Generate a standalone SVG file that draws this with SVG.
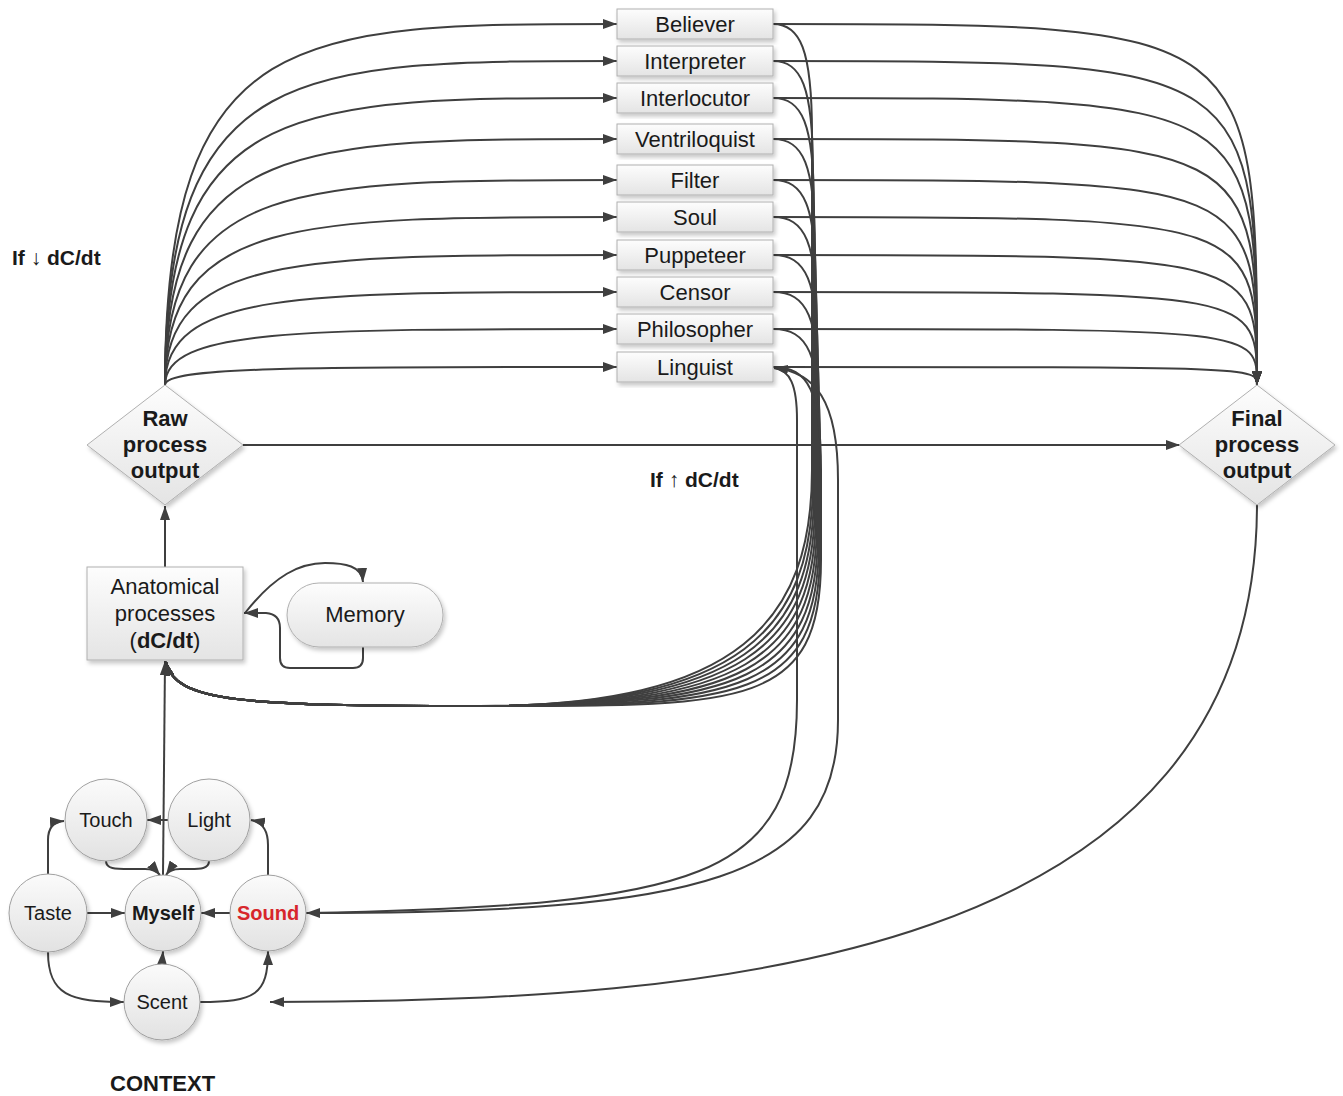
<svg xmlns="http://www.w3.org/2000/svg" width="1343" height="1096" viewBox="0 0 1343 1096">
<style>
.c{fill:none;stroke:#3f3f3f;stroke-width:2;marker-end:url(#arr)}
.box{fill:url(#gBox);stroke:#b0b0b0;stroke-width:1;filter:url(#sh)}
.dia{fill:url(#gBox);stroke:#b0b0b0;stroke-width:1;filter:url(#sh)}
.cir{fill:url(#gCir);stroke:#a0a0a0;stroke-width:1;filter:url(#sh)}
.t{font-family:"Liberation Sans",Arial,sans-serif;font-size:22px;fill:#1a1a1a;text-anchor:middle}
.s{font-size:20px}
.b{font-family:"Liberation Sans",Arial,sans-serif;font-size:22px;font-weight:bold;fill:#1a1a1a}
.l{font-size:21px}
.bm{text-anchor:middle}
</style>
<defs>
<linearGradient id="gBox" x1="0" y1="0" x2="0" y2="1"><stop offset="0" stop-color="#fdfdfd"/><stop offset="1" stop-color="#e4e4e4"/></linearGradient>
<linearGradient id="gCir" x1="0" y1="0" x2="0" y2="1"><stop offset="0" stop-color="#fbfbfb"/><stop offset="1" stop-color="#e2e2e2"/></linearGradient>
<filter id="sh" x="-20%" y="-20%" width="140%" height="140%"><feDropShadow dx="2" dy="3" stdDeviation="2" flood-color="#000" flood-opacity="0.22"/></filter>
<marker id="arr" viewBox="0 0 14 10" refX="14" refY="5" markerWidth="14" markerHeight="10" markerUnits="userSpaceOnUse" orient="auto"><path d="M0,0 L14,5 L0,10 z" fill="#3f3f3f"/></marker>
</defs>

<g id="connectors">
<!-- Raw -> boxes -->
<path class="c" d="M165,385 C165,24 300,24 617,24"/>
<path class="c" d="M165,385 C165,61 300,61 617,61"/>
<path class="c" d="M165,385 C165,98 300,98 617,98"/>
<path class="c" d="M165,385 C165,139 300,139 617,139"/>
<path class="c" d="M165,385 C165,180 300,180 617,180"/>
<path class="c" d="M165,385 C165,217 300,217 617,217"/>
<path class="c" d="M165,385 C165,255 300,255 617,255"/>
<path class="c" d="M165,385 C165,292 300,292 617,292"/>
<path class="c" d="M165,385 C165,329 300,329 617,329"/>
<path class="c" d="M165,385 C165,367 300,367 617,367"/>
<!-- boxes -> Final -->
<path class="c" d="M773,24 C1257,24 1257,24 1257,385"/>
<path class="c" d="M773,61 C1257,61 1257,61 1257,385"/>
<path class="c" d="M773,98 C1257,98 1257,98 1257,385"/>
<path class="c" d="M773,139 C1257,139 1257,139 1257,385"/>
<path class="c" d="M773,180 C1257,180 1257,180 1257,385"/>
<path class="c" d="M773,217 C1257,217 1257,217 1257,385"/>
<path class="c" d="M773,255 C1257,255 1257,255 1257,385"/>
<path class="c" d="M773,292 C1257,292 1257,292 1257,385"/>
<path class="c" d="M773,329 C1257,329 1257,329 1257,385"/>
<path class="c" d="M773,367 C1257,367 1257,367 1257,385"/>
<!-- boxes -> Anatomical -->
<path class="c" d="M773,24 C800,24 812,49 812,134 L812,470 C812,620 740,706 480,706 C240,706 175,702 166,662"/>
<path class="c" d="M773,61 C801,61 813,86 813,171 L813,480 C813,630 740,706 480,706 C240,706 175,702 166,662"/>
<path class="c" d="M773,98 C802,98 814,123 814,208 L814,490 C814,640 740,706 480,706 C240,706 175,702 166,662"/>
<path class="c" d="M773,139 C803,139 815,164 815,249 L815,500 C815,650 740,706 480,706 C240,706 175,702 166,662"/>
<path class="c" d="M773,180 C804,180 816,205 816,290 L816,510 C816,660 740,706 480,706 C240,706 175,702 166,662"/>
<path class="c" d="M773,217 C805,217 817,242 817,327 L817,520 C817,670 740,706 480,706 C240,706 175,702 166,662"/>
<path class="c" d="M773,255 C806,255 818,280 818,365 L818,530 C818,680 740,706 480,706 C240,706 175,702 166,662"/>
<path class="c" d="M773,292 C807,292 819,317 819,402 L819,540 C819,690 740,706 480,706 C240,706 175,702 166,662"/>
<path class="c" d="M773,329 C808,329 820,354 820,439 L820,550 C820,700 740,706 480,706 C240,706 175,702 166,662"/>
<path class="c" d="M773,367 C809,367 821,392 821,470 L821,560 C821,710 740,706 480,706 C240,706 175,702 166,662"/>
<!-- Linguist <-> Sound -->
<path class="c" d="M306,913 C700,905 797,880 797,700 L797,420 C797,385 790,370 774,368"/>
<path class="c" d="M774,368 C815,372 838,400 838,480 L838,720 C838,880 700,913 306,913"/>
<!-- main flow -->
<path class="c" d="M243,445 L1180,445"/>
<path class="c" d="M165,567 L165,506"/>
<path class="c" d="M163,875 L165,661"/>
<path class="c" d="M1257,504 C1257,960 720,1002 270,1002"/>
<!-- Memory loops -->
<path class="c" d="M245,613 C275,575 300,563 325,563 C345,563 362,566 363,582"/>
<path class="c" d="M363,647 L363,658 Q363,668 353,668 L290,668 Q280,668 280,658 L280,628 Q280,614 266,613 L244,613"/>
<!-- context -->
<path class="c" d="M48,874 L48,840 Q48,822 64,821"/>
<path class="c" d="M87,913 L125,913"/>
<path class="c" d="M48,952 C48,995 70,1002 124,1002"/>
<path class="c" d="M162,964 L163,951"/>
<path class="c" d="M200,1002 C255,1002 268,995 268,951"/>
<path class="c" d="M230,913 L201,913"/>
<path class="c" d="M268,875 L268,845 C268,830 262,822 251,820"/>
<path class="c" d="M168,820 L147,820"/>
<path class="c" d="M106,861 C106,869 115,869 130,869 L145,869 Q155,869 160,875"/>
<path class="c" d="M209,861 C209,869 200,869 190,869 L180,869 Q170,869 166,875"/>
</g>

<g id="believer"><rect class="box" x="617" y="9" width="156" height="30"/><text class="t" x="695" y="32">Believer</text></g>
<g id="interpreter"><rect class="box" x="617" y="46" width="156" height="30"/><text class="t" x="695" y="69">Interpreter</text></g>
<g id="interlocutor"><rect class="box" x="617" y="83" width="156" height="30"/><text class="t" x="695" y="106">Interlocutor</text></g>
<g id="ventriloquist"><rect class="box" x="617" y="124" width="156" height="30"/><text class="t" x="695" y="147">Ventriloquist</text></g>
<g id="filter"><rect class="box" x="617" y="165" width="156" height="30"/><text class="t" x="695" y="188">Filter</text></g>
<g id="soul"><rect class="box" x="617" y="202" width="156" height="30"/><text class="t" x="695" y="225">Soul</text></g>
<g id="puppeteer"><rect class="box" x="617" y="240" width="156" height="30"/><text class="t" x="695" y="263">Puppeteer</text></g>
<g id="censor"><rect class="box" x="617" y="277" width="156" height="30"/><text class="t" x="695" y="300">Censor</text></g>
<g id="philosopher"><rect class="box" x="617" y="314" width="156" height="30"/><text class="t" x="695" y="337">Philosopher</text></g>
<g id="linguist"><rect class="box" x="617" y="352" width="156" height="30"/><text class="t" x="695" y="375">Linguist</text></g>

<g id="raw"><polygon class="dia" points="165,385 243,445 165,505 87,445"/>
<text class="b bm" x="165" y="426">Raw</text><text class="b bm" x="165" y="452">process</text><text class="b bm" x="165" y="478">output</text></g>
<g id="final"><polygon class="dia" points="1257,385 1335,445 1257,505 1179,445"/>
<text class="b bm" x="1257" y="426">Final</text><text class="b bm" x="1257" y="452">process</text><text class="b bm" x="1257" y="478">output</text></g>

<g id="anatomical"><rect class="box" x="87" y="567" width="156" height="93"/>
<text class="t" x="165" y="594">Anatomical</text><text class="t" x="165" y="621">processes</text><text class="t" x="165" y="648">(<tspan font-weight="bold">dC/dt</tspan>)</text></g>
<g id="memory"><rect class="box" x="287" y="583" width="156" height="64" rx="32"/><text class="t" x="365" y="622">Memory</text></g>

<g id="touch"><circle class="cir" cx="106" cy="820" r="41"/><text class="t s" x="106" y="827">Touch</text></g>
<g id="light"><circle class="cir" cx="209" cy="820" r="41"/><text class="t s" x="209" y="827">Light</text></g>
<g id="taste"><circle class="cir" cx="48" cy="913" r="39"/><text class="t s" x="48" y="920">Taste</text></g>
<g id="myself"><circle class="cir" cx="163" cy="913" r="38"/><text class="t s" x="163" y="920" font-weight="bold">Myself</text></g>
<g id="sound"><circle class="cir" cx="268" cy="913" r="38"/><text class="t s" x="268" y="920" font-weight="bold" style="fill:#d7262b">Sound</text></g>
<g id="scent"><circle class="cir" cx="162" cy="1002" r="38"/><text class="t s" x="162" y="1009">Scent</text></g>

<g id="labels">
<text class="b l" x="12" y="265">If ↓ dC/dt</text>
<text class="b l" x="650" y="487">If ↑ dC/dt</text>
<text class="b" x="110" y="1091">CONTEXT</text>
</g>
</svg>
